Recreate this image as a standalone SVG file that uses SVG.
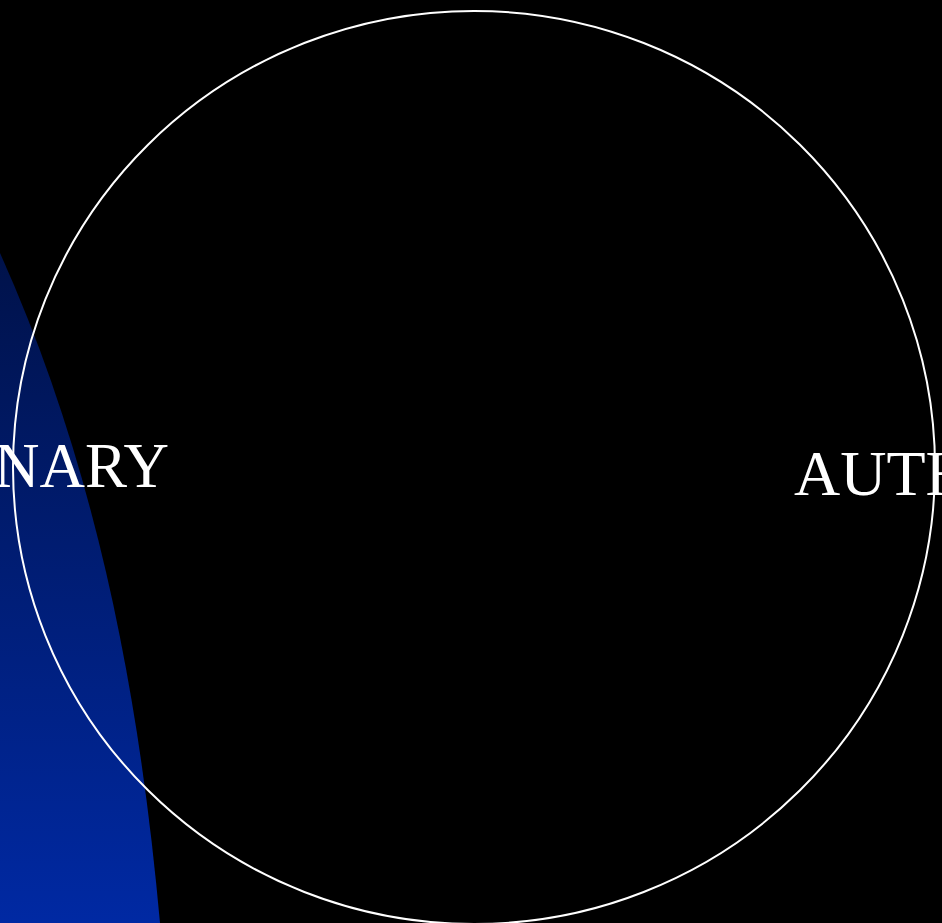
<svg xmlns="http://www.w3.org/2000/svg" width="942" height="923" viewBox="0 0 942 923">
  <defs>
    <linearGradient id="blueGrad" x1="0" y1="253" x2="0" y2="923" gradientUnits="userSpaceOnUse">
      <stop offset="0" stop-color="#00124a"/>
      <stop offset="1" stop-color="#0029a3"/>
    </linearGradient>
  </defs>
  <rect x="0" y="0" width="942" height="923" fill="#000000"/>
  <g id="blue-shape">
    <path d="M0,253 C99,473 140,703 160,923 L0,923 Z" fill="url(#blueGrad)"/>
  </g>
  <g id="circle">
    <ellipse cx="474" cy="467.5" rx="461" ry="456.5" fill="none" stroke="#ffffff" stroke-width="2"/>
  </g>
  <g id="label-left">
    <text x="-6" y="487" font-family="'Liberation Serif', 'Times New Roman', serif" font-size="63" fill="#ffffff">NARY</text>
  </g>
  <g id="label-right">
    <text x="794" y="495" font-family="'Liberation Serif', 'Times New Roman', serif" font-size="64" fill="#ffffff">AUTH</text>
  </g>
</svg>
